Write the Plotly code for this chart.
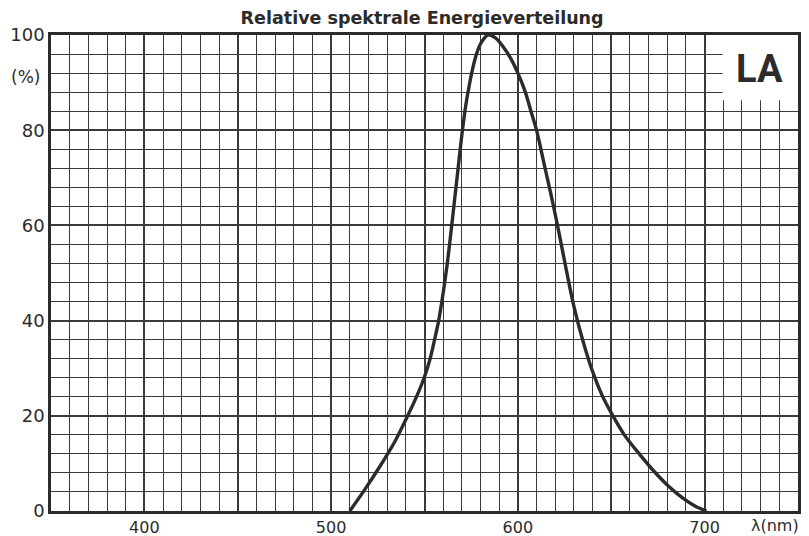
import plotly.graph_objects as go

# Data
wavelength_nm = [510, 518, 526, 534, 541, 546.5, 550, 553, 555.4, 557.6, 559.3, 560.8,
                 562.2, 564, 566, 568, 570, 572, 574, 576, 578, 580.5, 584, 588, 592,
                 596, 600, 604, 607, 610, 614, 618, 622, 626, 630, 635, 640, 645, 650,
                 657, 665, 673, 681, 688, 695, 701]
rel_energy = [0, 4.5, 9.3, 14.5, 20, 24.7, 28.2, 32, 36, 40, 44, 48,
              52, 58, 65, 72, 79, 85, 89.5, 93.3, 96.2, 98.5, 100, 99.4, 97.6,
              95.2, 92, 88, 84, 80, 73, 66, 58.5, 50.5, 43, 35.5, 29.3, 24.4, 20.6,
              16, 12, 8.3, 5.1, 2.8, 1.0, 0]

x_tickvals = [350, 400, 450, 500, 550, 600, 650, 700, 750]
x_ticktext = ["", "400", "", "500", "", "600", "", "700", ""]
y_tickvals = [0, 20, 40, 60, 80, 100]
y_ticktext = ["0", "20", "40", "60", "80", "100"]

title_text = "Relative spektrale Energieverteilung"
y_unit = "(%)"
x_unit = "λ(nm)"
badge = "LA"

ink = "#2b2b2b"
grid = "#3a3a3a"
tick_font = "DejaVu Sans, sans-serif"
title_font = "DejaVu Sans, sans-serif"
badge_font = "Roboto, sans-serif"

fig = go.Figure()
fig.add_trace(go.Scatter(
    x=wavelength_nm, y=rel_energy, mode="lines",
    line=dict(color=ink, width=3.4, shape="spline", smoothing=0.8),
    hoverinfo="skip", showlegend=False,
))

# white label box in upper right corner (covers grid)
fig.add_shape(type="rect", xref="x", yref="y", x0=709.6, x1=750, y0=86.3, y1=100,
              fillcolor="white", line=dict(width=0), layer="between")

fig.add_annotation(x=0.948, y=0.9286, xref="paper", yref="paper", text=badge,
                   showarrow=False, xanchor="center", yanchor="middle",
                   font=dict(family=badge_font, size=38, color=ink, weight="bold"))
fig.add_annotation(x=-0.034, y=0.912, xref="paper", yref="paper", text=y_unit,
                   showarrow=False, xanchor="center", yanchor="middle",
                   font=dict(family=tick_font, size=17, color=ink))
fig.add_annotation(x=1.0045, y=-0.031, xref="paper", yref="paper", text=x_unit,
                   showarrow=False, xanchor="right", yanchor="middle",
                   font=dict(family=tick_font, size=16, color=ink))

# page body adds an 8px offset, so the figure is drawn 8px smaller
fig.update_layout(
    width=801, height=528,
    margin=dict(l=43, r=11, t=27, b=25, autoexpand=False),
    paper_bgcolor="white", plot_bgcolor="white",
    title=dict(text=title_text, x=0.517, xanchor="center", y=0.981, yanchor="middle",
               font=dict(family=title_font, size=17.5, color=ink, weight="bold")),
    font=dict(family=tick_font, color=ink),
)

fig.update_xaxes(
    range=[350, 750], tickmode="array", tickvals=x_tickvals, ticktext=x_ticktext,
    showgrid=True, gridcolor=grid, gridwidth=1.8,
    minor=dict(dtick=10, tick0=350, showgrid=True, gridcolor=grid, gridwidth=1),
    showline=True, linecolor=ink, linewidth=2.5, mirror=True, automargin=False,
    ticks="", tickfont=dict(size=16, color=ink), zeroline=False, ticklabelstandoff=0,
)
fig.update_yaxes(
    range=[0, 100], tickmode="array", tickvals=y_tickvals, ticktext=y_ticktext,
    showgrid=True, gridcolor=grid, gridwidth=1.8,
    minor=dict(dtick=4, tick0=0, showgrid=True, gridcolor=grid, gridwidth=1),
    showline=True, linecolor=ink, linewidth=2.5, mirror=True, automargin=False,
    ticks="", tickfont=dict(size=18, color=ink), zeroline=False, ticklabelstandoff=0,
)

fig.write_html("out.html")
